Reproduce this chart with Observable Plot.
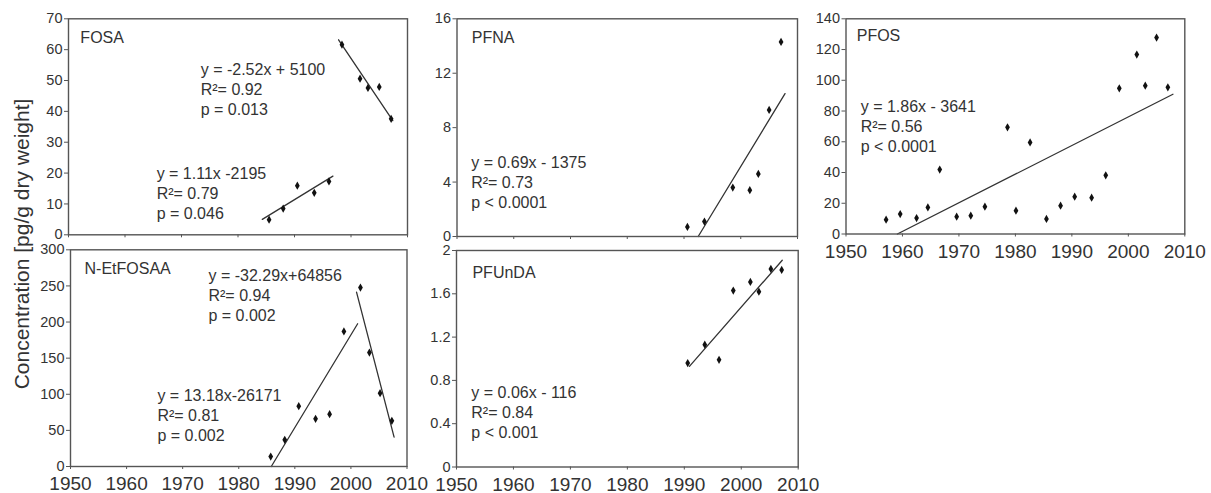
<!DOCTYPE html>
<html><head><meta charset="utf-8">
<script src="https://cdn.jsdelivr.net/npm/d3@7"></script>
<script src="https://cdn.jsdelivr.net/npm/@observablehq/plot@0.6"></script>
<style>
body{margin:0;background:#fff;}
#chart{position:relative;width:1211px;height:493px;overflow:hidden;font-family:"Liberation Sans",Arial,sans-serif;background:#fff;}
#chart svg{position:absolute;left:0;top:0;}
#ytitle{position:absolute;left:21.5px;top:243.5px;transform:translate(-50%,-50%) rotate(-90deg);font-size:21px;color:#333;white-space:nowrap;}
</style></head><body>
<div id="chart"><div id="ytitle">Concentration [pg/g dry weight]</div></div>
<script>
// ---------- data ----------
const xTicks = [1950, 1960, 1970, 1980, 1990, 2000, 2010];

const fosaYears  = [1985.5, 1988.0, 1990.5, 1993.5, 1996.1, 1998.4, 2001.6, 2003.0, 2005.0, 2007.1];
const fosaValues = [4.9, 8.5, 15.9, 13.6, 17.3, 61.6, 50.6, 47.6, 47.9, 37.6];
const fosaTrend1Years = [1984.3, 1996.8];
const fosaTrend1Values = [5.0, 19.0];
const fosaTrend2Years = [1997.8, 2007.4];
const fosaTrend2Values = [63.2, 37.0];
const fosaYTicks = [0, 10, 20, 30, 40, 50, 60, 70];
const fosaNotes = ["y = -2.52x + 5100\nR²= 0.92\np = 0.013", "y = 1.11x -2195\nR²= 0.79\np = 0.046"];

const pfnaYears  = [1990.6, 1993.6, 1998.6, 2001.6, 2003.1, 2005.0, 2007.1];
const pfnaValues = [0.7, 1.1, 3.6, 3.4, 4.6, 9.3, 14.3];
const pfnaTrendYears = [1992.5, 2007.8];
const pfnaTrendValues = [0, 10.5];
const pfnaYTicks = [0, 4, 8, 12, 16];
const pfnaNotes = ["y = 0.69x - 1375\nR²= 0.73\np < 0.0001"];

const pfosYears  = [1957.1, 1959.6, 1962.5, 1964.5, 1966.6, 1969.6, 1972.1, 1974.6, 1978.6, 1980.1, 1982.6,
                    1985.5, 1988.0, 1990.5, 1993.5, 1996.0, 1998.4, 2001.5, 2003.0, 2005.0, 2007.0];
const pfosValues = [9.3, 13.0, 10.4, 17.3, 41.9, 11.3, 11.9, 17.8, 69.4, 15.2, 59.6,
                    9.8, 18.4, 24.3, 23.6, 38.2, 94.8, 116.7, 96.5, 127.8, 95.4];
const pfosTrendYears = [1959.1, 2007.9];
const pfosTrendValues = [0, 90.9];
const pfosYTicks = [0, 20, 40, 60, 80, 100, 120, 140];
const pfosNotes = ["y = 1.86x - 3641\nR²= 0.56\np < 0.0001"];

const netYears  = [1985.7, 1988.2, 1990.7, 1993.7, 1996.2, 1998.75, 2001.7, 2003.3, 2005.2, 2007.3];
const netValues = [13.8, 36.9, 83.5, 66.0, 72.4, 186.9, 247.8, 157.8, 101.5, 63.2];
const netTrend1Years = [1985.8, 2001.2];
const netTrend1Values = [0, 197.6];
const netTrend2Years = [2001.0, 2007.7];
const netTrend2Values = [241.4, 40.6];
const netYTicks = [0, 50, 100, 150, 200, 250, 300];
const netNotes = ["y = -32.29x+64856\nR²= 0.94\np = 0.002", "y = 13.18x-26171\nR²= 0.81\np = 0.002"];

const pfundaYears  = [1990.6, 1993.6, 1996.1, 1998.6, 2001.6, 2003.1, 2005.2, 2007.1];
const pfundaValues = [0.96, 1.13, 0.99, 1.63, 1.71, 1.62, 1.83, 1.82];
const pfundaTrendYears = [1990.9, 2007.2];
const pfundaTrendValues = [0.93, 1.91];
const pfundaYTicks = [0, 0.4, 0.8, 1.2, 1.6, 2];
const pfundaNotes = ["y = 0.06x - 116\nR²= 0.84\np < 0.001"];

// ---------- layout ----------
const W = 1211, H = 493;
const FONT = '"Liberation Sans", Arial, sans-serif';
const zip = (xs, ys) => xs.map((x, i) => ({x, y: ys[i]}));

const panels = [
  {name: "FOSA", box: [68, 407, 18.3, 234.3], yDomain: [0, 70], yTicks: fosaYTicks, xLabels: false,
   pts: zip(fosaYears, fosaValues), trends: [zip(fosaTrend1Years, fosaTrend1Values), zip(fosaTrend2Years, fosaTrend2Values)],
   labelAt: [1952.1, 66.0], notes: fosaNotes, notesAt: [[1973.4, 56.4], [1965.6, 22.6]]},
  {name: "PFNA", box: [456.5, 797, 18.3, 236], yDomain: [0, 16], yTicks: pfnaYTicks, xLabels: false,
   pts: zip(pfnaYears, pfnaValues), trends: [zip(pfnaTrendYears, pfnaTrendValues)],
   labelAt: [1952.6, 15.07], notes: pfnaNotes, notesAt: [[1952.5, 6.1]]},
  {name: "PFOS", box: [845.5, 1184.3, 18.3, 233.5], yDomain: [0, 140], yTicks: pfosYTicks, xLabels: true,
   pts: zip(pfosYears, pfosValues), trends: [zip(pfosTrendYears, pfosTrendValues)],
   labelAt: [1951.9, 132.7], notes: pfosNotes, notesAt: [[1952.6, 88.5]]},
  {name: "N-EtFOSAA", box: [70, 406.5, 249.3, 466], yDomain: [0, 300], yTicks: netYTicks, xLabels: true,
   pts: zip(netYears, netValues), trends: [zip(netTrend1Years, netTrend1Values), zip(netTrend2Years, netTrend2Values)],
   labelAt: [1952.5, 282.7], notes: netNotes, notesAt: [[1974.6, 275.8], [1965.5, 110.5]]},
  {name: "PFUnDA", box: [456, 797.7, 250, 466.5], yDomain: [0, 2], yTicks: pfundaYTicks, xLabels: true,
   pts: zip(pfundaYears, pfundaValues), trends: [zip(pfundaTrendYears, pfundaTrendValues)],
   labelAt: [1952.8, 1.85], notes: pfundaNotes, notesAt: [[1952.6, 0.767]]}
];

const chart = document.getElementById("chart");
for (const p of panels) {
  const [x0, x1, y0, y1] = p.box;
  const svg = Plot.plot({
    width: W, height: H,
    marginLeft: x0, marginRight: W - x1, marginTop: y0, marginBottom: H - y1,
    x: {domain: [1950, 2010]},
    y: {domain: p.yDomain},
    style: {fontFamily: FONT, background: "transparent", overflow: "visible", color: "#333"},
    marks: [
      Plot.axisY({ticks: p.yTicks, tickSize: 4, tickPadding: 2, fontSize: 14.5, label: null,
                  stroke: "#555", fill: "#333", tickFormat: d => String(d)}),
      Plot.axisX({ticks: xTicks, tickSize: 3, tickPadding: 7, fontSize: 19, label: null,
                  stroke: "#555", fill: "#333", tickFormat: p.xLabels ? (d => String(d)) : (() => "")}),
      ...p.trends.map(t => Plot.line(t, {x: "x", y: "y", stroke: "#333", strokeWidth: 1.3})),
      Plot.dot(p.pts, {x: "x", y: "y", symbol: "diamond", r: 2.5, fill: "#111"}),
      Plot.text([{x: p.labelAt[0], y: p.labelAt[1], t: p.name}],
                {x: "x", y: "y", text: "t", textAnchor: "start", lineAnchor: "top", fontSize: 16, fill: "#333"}),
      Plot.text(p.notes.map((n, i) => ({x: p.notesAt[i][0], y: p.notesAt[i][1], t: n})),
                {x: "x", y: "y", text: "t", textAnchor: "start", lineAnchor: "top", fontSize: 16,
                 lineHeight: 1.25, fill: "#333"}),
      Plot.frame({stroke: "#555", strokeWidth: 1.4})
    ]
  });
  chart.appendChild(svg);
}
</script>
</body></html>
